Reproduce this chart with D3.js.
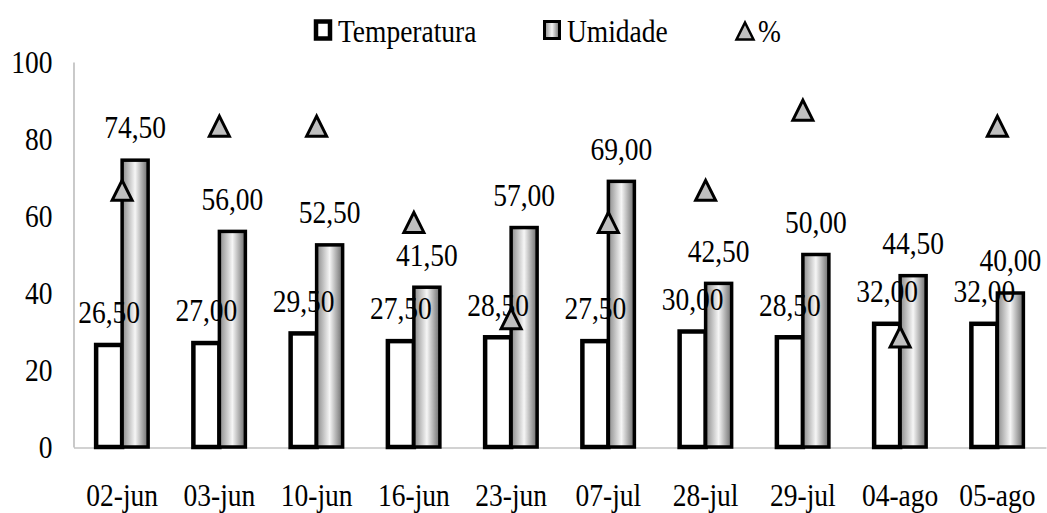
<!DOCTYPE html>
<html><head><meta charset="utf-8">
<script src="https://cdn.jsdelivr.net/npm/d3@7"></script>
<style>
body{margin:0;background:#fff}
text{font-family:"Liberation Serif","Times New Roman",serif;fill:#000}
</style>
</head><body><svg id="c" width="1047" height="513"></svg>
<script>
const categories = ["02-jun","03-jun","10-jun","16-jun","23-jun","07-jul","28-jul","29-jul","04-ago","05-ago"];
const temperatura = [26.5,27,29.5,27.5,28.5,27.5,30,28.5,32,32];
const umidade = [74.5,56,52.5,41.5,57,69,42.5,50,44.5,40];
const percentual = [66.67,83.33,83.33,58.33,33.33,58.33,66.67,87.5,28.57,83.33];
const yTicks = [0,20,40,60,80,100];
const seriesNames = ["Temperatura","Umidade","%"];

const svg = d3.select("#c");
const FS = 27.5;
const y = d3.scaleLinear().domain([0,100]).range([447,62]);
const x = d3.scaleBand().domain(categories).range([73.5,1046]).padding(0);
const x1 = d3.scaleBand().domain(["T","U"]).range([x.bandwidth()/2-26, x.bandwidth()/2+26]).padding(0);
const fmt = v => d3.format(".2f")(v).replace(".", ",");

const defs = svg.append("defs");
const grad = defs.append("linearGradient").attr("id","gU").attr("x1","0%").attr("x2","100%").attr("y1","0%").attr("y2","0%");
grad.append("stop").attr("offset","0%").attr("stop-color","#8a8a8a");
grad.append("stop").attr("offset","50%").attr("stop-color","#f6f6f6");
grad.append("stop").attr("offset","100%").attr("stop-color","#6a6a6a");

// axes
const ya = svg.append("g").attr("transform","translate(73.5,0)")
  .call(d3.axisLeft(y).tickValues(yTicks).tickSize(0).tickSizeOuter(0).tickPadding(21));
ya.select(".domain").attr("stroke","#a6a6a6").attr("stroke-width",1.2);
ya.selectAll("text").style("font-size",FS+"px").style("font-family",'"Liberation Serif",serif');

const xa = svg.append("g").attr("transform","translate(0,447.5)")
  .call(d3.axisBottom(x).tickSize(0).tickSizeOuter(0));
xa.select(".domain").attr("stroke","#a6a6a6").attr("stroke-width",1.2);
xa.selectAll("text").attr("dy",null).attr("y",57).style("font-size",FS+"px").style("font-family",'"Liberation Serif",serif');

// bars
const g = svg.append("g");
const groups = g.selectAll("g.cat").data(categories).join("g").attr("class","cat")
  .attr("transform", d => `translate(${x(d)},0)`);

groups.append("rect")
  .attr("x", x1("T")).attr("width", x1.bandwidth())
  .attr("y", (d,i) => y(temperatura[i])).attr("height", (d,i) => y(0)-y(temperatura[i]))
  .attr("fill","#fff").attr("stroke","#000").attr("stroke-width",4.5);

groups.append("rect")
  .attr("x", x1("U")).attr("width", x1.bandwidth())
  .attr("y", (d,i) => y(umidade[i])).attr("height", (d,i) => y(0)-y(umidade[i]))
  .attr("fill","url(#gU)").attr("stroke","#000").attr("stroke-width",3.5);

// data labels
groups.append("text")
  .attr("x", x1("T")+x1.bandwidth()/2).attr("y", (d,i) => y(temperatura[i])-23)
  .attr("text-anchor","middle").style("font-size",FS+"px").text((d,i)=>fmt(temperatura[i]));
groups.append("text")
  .attr("x", x1("U")+x1.bandwidth()/2).attr("y", (d,i) => y(umidade[i])-23)
  .attr("text-anchor","middle").style("font-size",FS+"px").text((d,i)=>fmt(umidade[i]));

// triangles
const tri = "M0,-10L10,10L-10,10Z";
groups.append("path")
  .attr("d", tri)
  .attr("transform", (d,i) => `translate(${x.bandwidth()/2},${y(percentual[i])})`)
  .attr("fill","#bfbfbf").attr("stroke","#000").attr("stroke-width",3).attr("stroke-linejoin","miter");

// legend
const lg = svg.append("g");
lg.append("rect").attr("x",316).attr("y",21.5).attr("width",14).attr("height",17).attr("fill","#fff").attr("stroke","#000").attr("stroke-width",4.5);
lg.append("text").attr("x",338).attr("y",41).style("font-size",FS+"px").text(seriesNames[0]);
lg.append("rect").attr("x",544.5).attr("y",21.5).attr("width",15).attr("height",17).attr("fill","url(#gU)").attr("stroke","#000").attr("stroke-width",3);
lg.append("text").attr("x",567).attr("y",41).style("font-size",FS+"px").text(seriesNames[1]);
lg.append("path").attr("d","M0,-8.5L8.5,8.5L-8.5,8.5Z").attr("transform","translate(745,31)")
  .attr("fill","#bfbfbf").attr("stroke","#000").attr("stroke-width",2.5);
lg.append("text").attr("x",758).attr("y",41).style("font-size",FS+"px").text(seriesNames[2]);

// vertical stretch of glyphs (reference text is taller than wide)
const S = 1.14;
svg.selectAll("text").each(function(){
  const bb = this.getBBox();
  const cy = bb.y + bb.height/2;
  d3.select(this).attr("transform", `translate(0,${cy}) scale(1,${S}) translate(0,${-cy})`);
});
</script>
</body></html>
